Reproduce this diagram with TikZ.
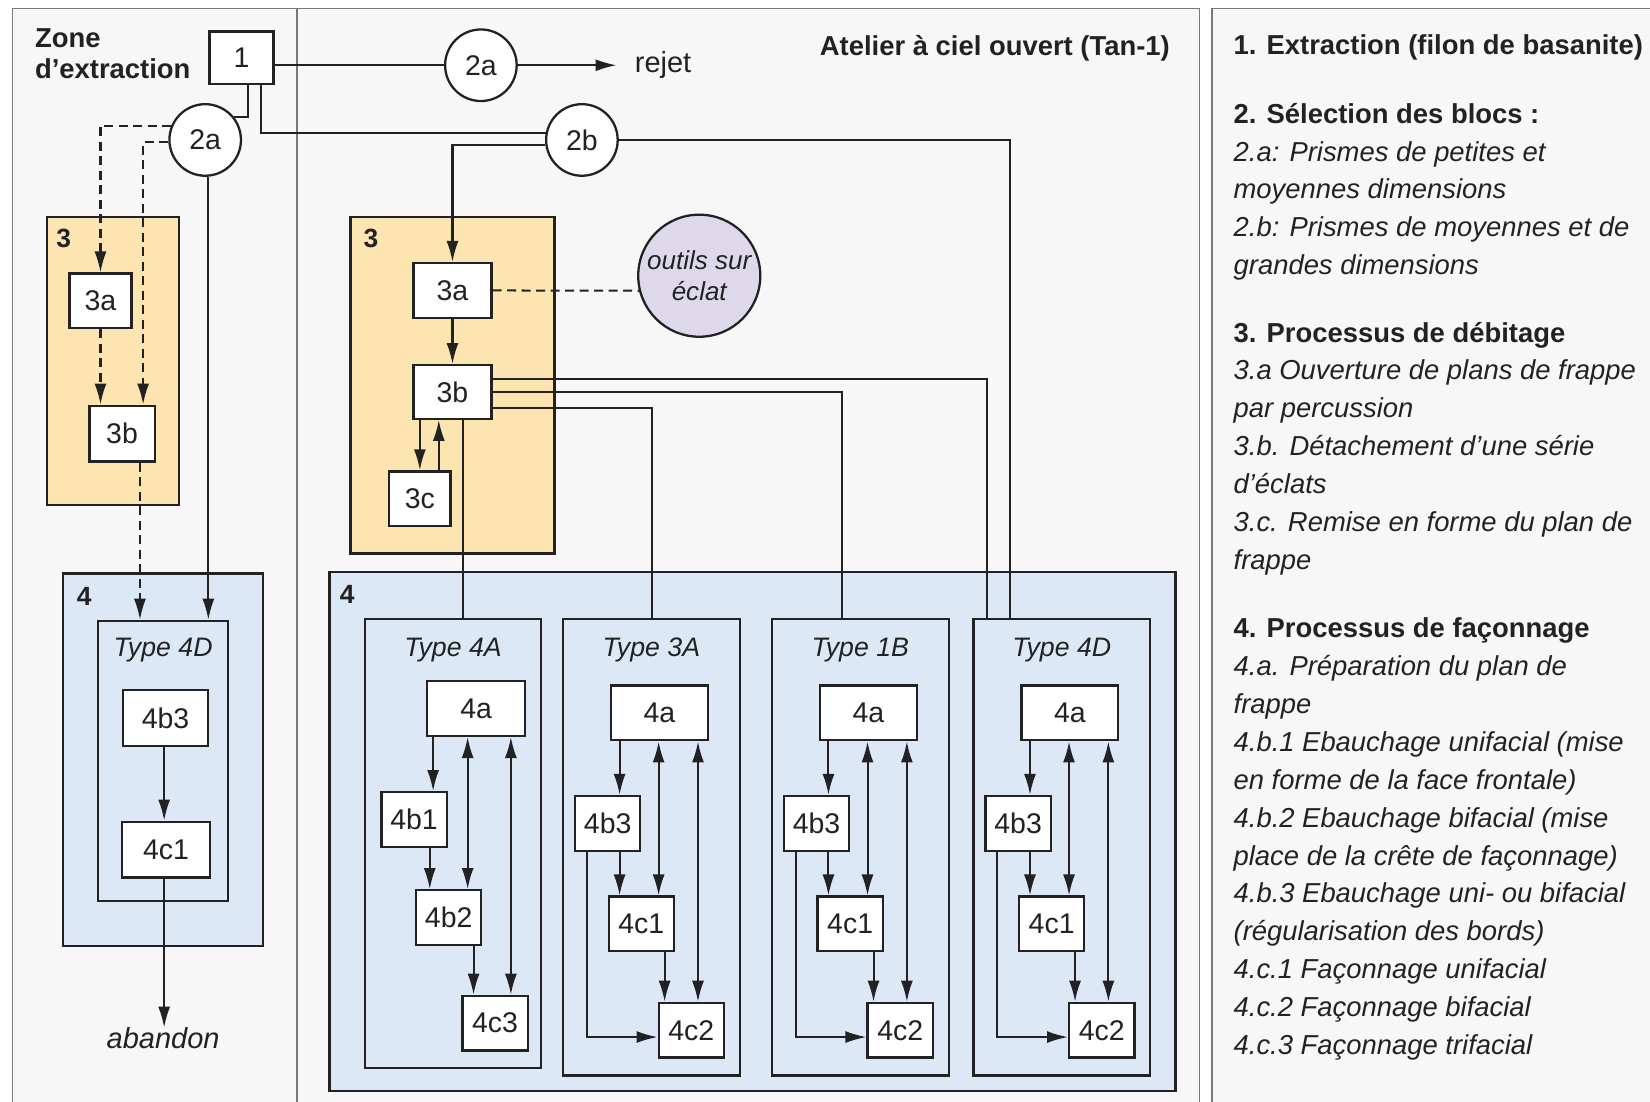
\documentclass[tikz,border=0pt]{standalone}
\usepackage{fontspec}
\setmainfont{Liberation Sans}
\usetikzlibrary{positioning,arrows.meta}

\newlength\px
\setlength\px{0.21045mm}

\definecolor{panelgray}{RGB}{247,247,247}
\definecolor{orangefill}{RGB}{253,229,178}
\definecolor{bluefill}{RGB}{220,232,246}
\definecolor{lilac}{RGB}{222,217,234}
\definecolor{ink}{RGB}{34,34,34}
\definecolor{framegray}{RGB}{120,120,120}

\tikzset{
  box/.style={draw=ink, line width=1.3pt, fill=white, inner sep=0pt, text=ink,
    minimum width=62*\px, minimum height=52*\px, font=\fontsize{16.2}{18}\selectfont},
  wide/.style={box, minimum width=92*\px},
  stage/.style={draw=ink, line width=1.3pt, fill=white, circle, inner sep=0pt, text=ink,
    minimum size=68*\px, font=\fontsize{16.2}{18}\selectfont},
  zone3/.style={draw=ink, line width=1.3pt, fill=orangefill},
  zone4/.style={draw=ink, line width=1.3pt, fill=bluefill},
  typebox/.style={draw=ink, line width=1.3pt, inner sep=0pt},
  frame/.style={draw=framegray, line width=0.9pt},
  link/.style={draw=ink, line width=1.15pt},
  arr/.style={link, -{Latex[length=4.2mm,width=2.4mm]}},
  darr/.style={link, {Latex[length=4.2mm,width=2.4mm]}-{Latex[length=4.2mm,width=2.4mm]}},
  dashlink/.style={link, dash pattern=on 1.8mm off 1.1mm},
  numlabel/.style={font=\bfseries\fontsize{15}{18}\selectfont, inner sep=0pt, text=ink},
  typelabel/.style={font=\itshape\fontsize{15.2}{18}\selectfont, inner sep=0pt, text=ink},
  heading/.style={font=\bfseries\fontsize{15.6}{18}\selectfont, inner sep=0pt, text=ink, anchor=base west},
  item/.style={font=\itshape\fontsize{15.6}{18}\selectfont, inner sep=0pt, text=ink, anchor=base west},
}

\begin{document}
\begin{tikzpicture}[x=0.21045mm, y=-0.21045mm]
\useasboundingbox (0,0) rectangle (1568,1047);
\fill[white] (0,0) rectangle (1568,1047);

% frames
\fill[panelgray] (12,8) rectangle (1140,1047);
\draw[frame] (12,1047) |- (1140,8) -- (1140,1047);
\draw[frame] (282,8) -- (282,1047);
\fill[panelgray] (1152,8) rectangle (1568,1047);
\draw[frame] (1152,1047) |- (1568,8);

% zones
\draw[zone3] (45,206) rectangle (170,480);
\draw[zone4] (60,545) rectangle (250,899);
\draw[zone3] (333,206) rectangle (527,526);
\draw[zone4] (313,543.6) rectangle (1117,1037);
\node[numlabel] (z3L) at (60.5,227) {3};
\node[numlabel] (z4L) at (80,567) {4};
\node[numlabel] (z3R) at (352.5,227) {3};
\node[numlabel] (z4R) at (330,565) {4};

% extraction
\node[heading] (zone) at (33,45) {Zone};
\node[heading] (zone2) at (33,75) {d’extraction};
\node[heading, anchor=base east] (atelier) at (1112,53) {Atelier à ciel ouvert (Tan-1)};
\node[box, minimum width=61*\px, minimum height=50*\px] (n1) at (229.5,55) {1};
\node[stage] (n2a) at (457,62) {2a};
\node[anchor=base west, inner sep=0pt, text=ink, font=\fontsize{16.5}{18}\selectfont] (rejet) at (603,69) {rejet};
\node[stage] (n2aL) at (195,133) {2a};
\node[stage] (n2b) at (553,133) {2b};

% left chain
\node[box, minimum width=59*\px] (n3aL) at (95.5,286) {3a};
\node[box, minimum height=53*\px] (n3bL) at (116,412) {3b};
\node[typebox, minimum width=124*\px, minimum height=266*\px] (tL) at (155,723) {};
\node[typelabel] (labL) at (155,618) {Type 4D};
\node[box, minimum width=81*\px, minimum height=53*\px] (l4b3) at (157.3,682.5) {4b3};
\node[box, minimum width=84*\px, minimum height=53*\px] (l4c1) at (157.8,807.4) {4c1};
\node[inner sep=0pt, text=ink, font=\itshape\fontsize{16.5}{18}\selectfont] (abandon) at (155,987) {abandon};

% right chain
\node[box, minimum width=74*\px] (n3aR) at (430,276) {3a};
\node[box, minimum width=74*\px, minimum height=51*\px] (n3bR) at (430,372.5) {3b};
\node[box, minimum width=58*\px] (n3cR) at (399,474) {3c};
\node[circle, draw=ink, line width=1.3pt, fill=lilac, minimum size=116*\px, inner sep=0pt,
  align=center, text=ink, font=\itshape\fontsize{14.8}{17.9}\selectfont] (outils) at (664.5,262) {outils sur\\éclat};

% type 4A
\node[typebox, minimum width=167*\px, minimum height=427*\px] (t4A) at (430.5,801.5) {};
\node[typelabel] (lab4A) at (430.5,618) {Type 4A};
\node[wide, minimum width=93*\px] (ta4a) at (452.5,673.3) {4a};
\node[box] (ta4b1) at (393.5,778.8) {4b1};
\node[box] (ta4b2) at (426.4,872) {4b2};
\node[box] (ta4c3) at (470.5,972.3) {4c3};
\draw[arr] (ta4a.south -| 411.6,0) -- (ta4b1.north -| 411.6,0);
\draw[arr] (ta4b1.south -| 408.4,0) -- (ta4b2.north -| 408.4,0);
\draw[darr] (ta4a.south -| 444.4,0) -- (ta4b2.north -| 444.4,0);
\draw[arr] (ta4b2.south -| 450,0) -- (ta4c3.north -| 450,0);
\draw[darr] (ta4a.south -| 485.5,0) -- (ta4c3.north -| 485.5,0);

% types 3A, 1B, 4D
\foreach \dx/\nm/\lab in {0/ta/3A, 198.5/tb/1B, 390/td/4D} {
  \node[typebox, minimum width=168*\px, minimum height=434*\px] (\nm) at (619+\dx,805) {};
  \node[typelabel] (lab\nm) at (619+\dx,618) {Type \lab};
  \node[wide] (\nm4a) at (626.7+\dx,677.5) {4a};
  \node[box] (\nm4b3) at (577.5+\dx,782.4) {4b3};
  \node[box] (\nm4c1) at (609.4+\dx,878) {4c1};
  \node[box] (\nm4c2) at (657+\dx,979) {4c2};
  \draw[arr] (\nm4a.south -| 588.8+\dx,0) -- (\nm4b3.north -| 588.8+\dx,0);
  \draw[arr] (\nm4b3.south -| 588.8+\dx,0) -- (\nm4c1.north -| 588.8+\dx,0);
  \draw[darr] (\nm4a.south -| 625.9+\dx,0) -- (\nm4c1.north -| 625.9+\dx,0);
  \draw[arr] (\nm4c1.south -| 631.6+\dx,0) -- (\nm4c2.north -| 631.6+\dx,0);
  \draw[darr] (\nm4a.south -| 663.3+\dx,0) -- (\nm4c2.north -| 663.3+\dx,0);
  \draw[arr] (\nm4b3.south -| 557.8+\dx,0) |- ([yshift=-6.5*\px]\nm4c2.west);
}

% links from extraction
\draw[link] (n1.east |- n2a.west) -- (n2a.west);
\draw[arr, shorten >=3.6mm] (n2a.east) -- (n2a.east -| rejet.west);
\draw[link] (n1.south -| 235.7,0) |- (n2aL.38);
\draw[link] (n1.south -| 248.4,0) |- (n2b.169);
\draw[arr] (n2b.188) -| (n3aR.north);
\draw[link] (n2b.east) -| (td.north -| 960,0);

% links left
\draw[arr, dashlink] (n2aL.157) -| (n3aL.north);
\draw[arr, dashlink] (n2aL.183) -| (n3bL.north -| 136,0);
\draw[arr, dashlink] (n3aL.south) -- (n3bL.north -| n3aL.south);
\draw[arr, dashlink] (n3bL.south -| 133,0) -- (tL.north -| 133,0);
\draw[arr] (n2aL.south -| 198,0) -- (tL.north -| 198,0);
\draw[arr] (l4b3.south -| 156,0) -- (l4c1.north -| 156,0);
\draw[arr] (l4c1.south -| 156,0) -- (abandon.north -| 156,0);

% links right
\draw[arr] (n3aR) -- (n3bR);
\draw[arr] (n3bR.south -| n3cR.north) -- (n3cR.north);
\draw[arr] (n3cR.north -| 417,0) -- (n3bR.south -| 417,0);
\draw[dashlink] (n3aR.east) -- (outils.194);
\draw[link] ([yshift=12.5*\px]n3bR.east) -| (td.north -| 938,0);
\draw[link] (n3bR.east) -| (tb.north -| 800,0);
\draw[link] ([yshift=-15.5*\px]n3bR.east) -| (ta.north -| 620,0);
\draw[link] (n3bR.south -| 440,0) -- (t4A.north -| 440,0);

% legend
\node[heading] (lg1) at (1172,52) {1. Extraction (filon de basanite)};
\node[heading] (lg2) at (1172,117) {2. Sélection des blocs :};
\foreach \txt [count=\i] in {{2.a: Prismes de petites et}, {moyennes dimensions},
    {2.b: Prismes de moyennes et de}, {grandes dimensions}}
  \node[item] (lg2\i) at (1172,117+36*\i) {\txt};
\node[heading] (lg3) at (1172,325) {3. Processus de débitage};
\foreach \txt [count=\i] in {{3.a Ouverture de plans de frappe}, {par percussion},
    {3.b. Détachement d’une série}, {d’éclats}, {3.c. Remise en forme du plan de}, {frappe}}
  \node[item] (lg3\i) at (1172,325+36*\i) {\txt};
\node[heading] (lg4) at (1172,606) {4. Processus de façonnage};
\foreach \txt [count=\i] in {{4.a. Préparation du plan de}, {frappe},
    {4.b.1 Ebauchage unifacial (mise}, {en forme de la face frontale)},
    {4.b.2 Ebauchage bifacial (mise}, {place de la crête de façonnage)},
    {4.b.3 Ebauchage uni- ou bifacial}, {(régularisation des bords)},
    {4.c.1 Façonnage unifacial}, {4.c.2 Façonnage bifacial}, {4.c.3 Façonnage trifacial}}
  \node[item] (lg4\i) at (1172,606+36*\i) {\txt};
\end{tikzpicture}
\end{document}
